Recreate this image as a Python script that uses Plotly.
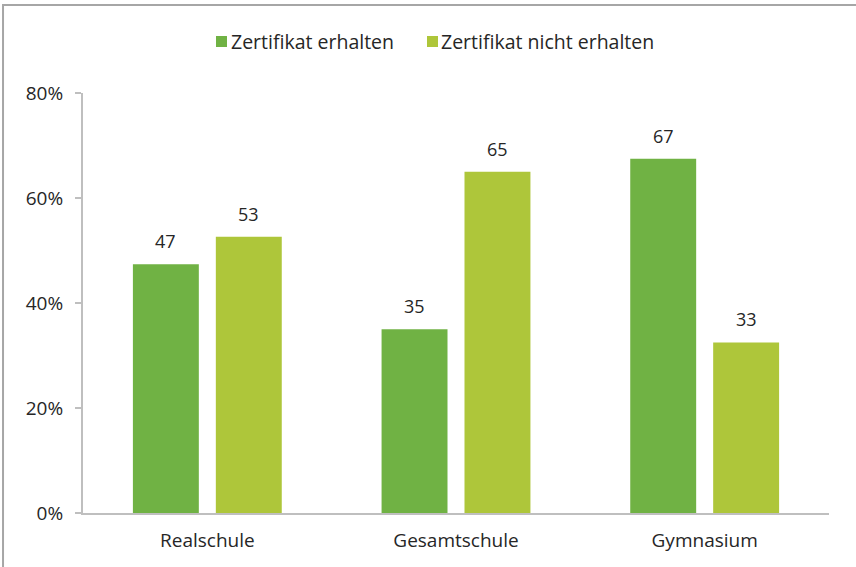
import plotly.graph_objects as go

categories = ["Realschule", "Gesamtschule", "Gymnasium"]
series_names = ["Zertifikat erhalten", "Zertifikat nicht erhalten"]
erhalten = [47.4, 35.0, 67.5]
nicht_erhalten = [52.6, 65.0, 32.5]
erhalten_labels = ["47", "35", "67"]
nicht_erhalten_labels = ["53", "65", "33"]
y_ticks = [0, 20, 40, 60, 80]
y_tick_labels = ["0%", "20%", "40%", "60%", "80%"]

colors = ["#70B244", "#AEC63A"]
FONT = "Open Sans"
TXT = "#262626"

fig = go.Figure()
fig.add_trace(go.Bar(x=categories, y=erhalten, name=series_names[0],
                     marker=dict(color=colors[0], line=dict(width=0))))
fig.add_trace(go.Bar(x=categories, y=nicht_erhalten, name=series_names[1],
                     marker=dict(color=colors[1], line=dict(width=0))))

annotations = []
for i, cat in enumerate(categories):
    for vals, labs, shift in ((erhalten, erhalten_labels, -41.5),
                              (nicht_erhalten, nicht_erhalten_labels, 41.5)):
        annotations.append(dict(x=cat, y=vals[i], text=labs[i], showarrow=False,
                                xshift=shift, yshift=9, yanchor="bottom",
                                font=dict(family=FONT, size=18, color=TXT)))

# manual legend (squares + text) placed above the plot
legend_pos = [(0.1783, 0.1930, 0.1957), (0.4611, 0.4759, 0.4772)]
shapes = [dict(type="rect", xref="paper", yref="paper",
               x0=-0.1072, x1=1.2, y0=-0.3, y1=1.2095,
               line=dict(color="#A6A6A6", width=2), layer="below")]
for (sx0, sx1, tx), name, col in zip(legend_pos, series_names, colors):
    shapes.append(dict(type="rect", xref="paper", yref="paper",
                       x0=sx0, x1=sx1, y0=1.1095, y1=1.1357,
                       fillcolor=col, line=dict(width=0)))
    annotations.append(dict(xref="paper", yref="paper", x=tx, y=1.1226,
                            xanchor="left", yanchor="middle", text=name,
                            showarrow=False,
                            font=dict(family=FONT, size=19.5, color=TXT)))

fig.update_layout(
    width=856, height=567,
    margin=dict(l=83, r=27, t=93, b=54),
    paper_bgcolor="white", plot_bgcolor="white",
    barmode="group", bargap=0.333, bargroupgap=0.205,
    font=dict(family=FONT, size=19, color=TXT),
    showlegend=False,
    annotations=annotations,
    shapes=shapes,
)
fig.update_xaxes(showline=True, linecolor="#BFBFBF", linewidth=2, ticks="",
                 showgrid=False, tickfont=dict(family=FONT, size=19, color=TXT),
                 ticklabelstandoff=9)
fig.update_yaxes(range=[0, 80], tickvals=y_ticks, ticktext=y_tick_labels,
                 showline=True, linecolor="#BFBFBF", linewidth=2,
                 ticks="outside", ticklen=6, tickcolor="#BFBFBF", tickwidth=2,
                 showgrid=False, zeroline=False,
                 tickfont=dict(family=FONT, size=19, color=TXT),
                 ticklabelstandoff=8)

fig.write_html("out.html", config={"displayModeBar": False},
               post_script="document.body.style.margin='0';")
